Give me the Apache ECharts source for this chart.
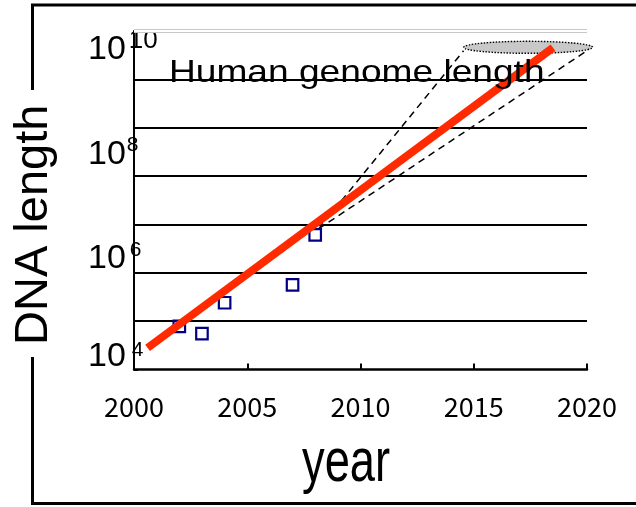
<!DOCTYPE html>
<html><head><meta charset="utf-8">
<script src="https://cdn.jsdelivr.net/npm/echarts@6/dist/echarts.min.js"></script>
<style>html,body{margin:0;padding:0;background:#fff}#c{width:636px;height:507px}</style>
</head><body><div id="c"></div>
<script>
// ---- data ----
const years = [2002, 2003, 2004, 2007, 2008];
const dnaLengths = [7.8e4, 5.5e4, 2.4e5, 5.6e5, 6.1e6];
const trendYears = [2000.6, 2018.5];
const trendLengths = [2.8e4, 4.5e10];
const projStart = [2008.15, 8.1e6];
const projEndUpper = [2014.55, 3.9e10];
const projEndLower = [2020.1, 4.2e10];
const genomeEllipse = [2017.4, 4.6e10];
const xTicks = [2000, 2005, 2010, 2015, 2020];
const yLabelExponents = [4, 6, 8, 10];
const annotationText = 'Human genome length';
const xTitle = 'year';
const yTitle = 'DNA length';

// ---- chart ----
const chart = echarts.init(document.getElementById('c'), null, {renderer: 'canvas'});
const FONT = 'Liberation Sans';
const TICKFONT = '"Noto Sans CJK JP", "Liberation Sans"';

const rich = {
  m: {fontSize: 34, fontFamily: FONT, color: '#000', lineHeight: 34, verticalAlign: 'middle'},
  e10: {fontSize: 26, fontFamily: FONT, color: '#000', lineHeight: 20, verticalAlign: 'middle', padding: [0, 0, 17, 3]},
  e8: {fontSize: 21, fontFamily: FONT, color: '#000', lineHeight: 20, verticalAlign: 'middle', padding: [0, 0, 18, 1]},
  e6: {fontSize: 21, fontFamily: FONT, color: '#000', lineHeight: 20, verticalAlign: 'middle', padding: [0, 0, 17, 4]},
  e4: {fontSize: 21, fontFamily: FONT, color: '#000', lineHeight: 20, verticalAlign: 'middle', padding: [0, 0, 12, 6]},
  s10: {fontSize: 10, lineHeight: 60, height: 60},
  s8: {fontSize: 10, lineHeight: 43, height: 43},
  s6: {fontSize: 10, lineHeight: 28, height: 28},
  s4: {fontSize: 10, lineHeight: 26, height: 26}
};

const option = {
  animation: false,
  backgroundColor: '#fff',
  textStyle: {fontFamily: FONT},
  grid: {left: 134, right: 49, top: 31, bottom: 137.5, containLabel: false, outerBoundsMode: 'none'},
  xAxis: {
    type: 'value', min: xTicks[0], max: xTicks[xTicks.length - 1], interval: 5,
    axisLine: {show: true, lineStyle: {color: '#000', width: 2.5}},
    axisTick: {show: true, inside: true, length: 6, lineStyle: {color: '#000', width: 2}},
    axisLabel: {show: true, margin: 24, fontSize: 27, fontFamily: TICKFONT, color: '#000',
      formatter: v => String(v)},
    splitLine: {show: false}
  },
  yAxis: {
    type: 'log', logBase: 10, min: 1e4, max: 1e11, interval: 1, splitNumber: 7,
    name: yTitle, nameLocation: 'middle', nameRotate: 90, nameGap: 76,
    nameTextStyle: {fontSize: 47, fontFamily: FONT, color: '#000', padding: [0, 49, 0, 0]},
    axisLine: {show: true, lineStyle: {color: '#000', width: 2}},
    axisTick: {show: true, inside: true, length: 4, lineStyle: {color: '#000', width: 2}},
    axisLabel: {
      show: true, align: 'left', margin: 46, rich: rich,
      formatter: function (v) {
        const e = Math.round(Math.log10(v));
        if (yLabelExponents.indexOf(e) < 0) return '';
        return '{m|10}{e' + e + '|' + e + '}\n{s' + e + '| }';
      }
    },
    splitLine: {show: true, showMinLine: false, showMaxLine: false, lineStyle: {color: '#000', width: 2}}
  },
  series: [
    {
      type: 'custom', coordinateSystem: 'cartesian2d', clip: false, z: 2,
      data: [genomeEllipse],
      renderItem: function (params, api) {
        const p = api.coord([api.value(0), api.value(1)]);
        return {
          type: 'ellipse',
          shape: {cx: p[0], cy: p[1], rx: 64.5, ry: 6},
          style: {fill: '#c8c8c8', stroke: '#000', lineWidth: 1.4, lineDash: [1.5, 1.5]}
        };
      }
    },
    {
      type: 'line', clip: false, z: 3, symbol: 'none',
      data: [projStart, projEndUpper],
      lineStyle: {color: '#000', width: 1.5, type: [7, 5]}
    },
    {
      type: 'line', clip: false, z: 3, symbol: 'none',
      data: [projStart, projEndLower],
      lineStyle: {color: '#000', width: 1.5, type: [7, 5]}
    },
    {
      type: 'scatter', z: 4, symbol: 'rect', symbolSize: 11.5,
      data: years.map((y, i) => [y, dnaLengths[i]]),
      itemStyle: {color: 'rgba(0,0,0,0)', borderColor: '#000080', borderWidth: 2.2, opacity: 1},
      markLine: {
        silent: true, symbol: ['none', 'none'], label: {show: false}, animation: false,
        data: [
          {yAxis: 1e11, lineStyle: {color: '#c8c8c8', width: 4, type: 'solid'}},
          {yAxis: 1e11, lineStyle: {color: '#fff', width: 2, type: 'solid'}}
        ]
      }
    },
    {
      type: 'line', z: 5, symbol: 'none', clip: false,
      data: trendYears.map((y, i) => [y, trendLengths[i]]),
      lineStyle: {color: '#ff2a00', width: 8}
    }
  ],
  graphic: [
    {type: 'polyline', shape: {points: [[32.5, 90], [32.5, 5], [640, 5]]}, style: {stroke: '#000', lineWidth: 3, fill: 'none'}, z: 10},
    {type: 'polyline', shape: {points: [[32.5, 357], [32.5, 503.5], [640, 503.5]]}, style: {stroke: '#000', lineWidth: 3, fill: 'none'}, z: 10},
    {type: 'text', x: 169, y: 73, scaleX: 1.16, z: 10,
      style: {text: annotationText, font: '32px "Liberation Sans"', fill: '#000', verticalAlign: 'middle', align: 'left'}},
    {type: 'text', x: 302, y: 464, scaleX: 0.73, z: 10,
      style: {text: xTitle, font: '62px "Liberation Sans"', fill: '#000', verticalAlign: 'middle', align: 'left'}}
  ]
};
chart.setOption(option);
</script>
</body></html>
